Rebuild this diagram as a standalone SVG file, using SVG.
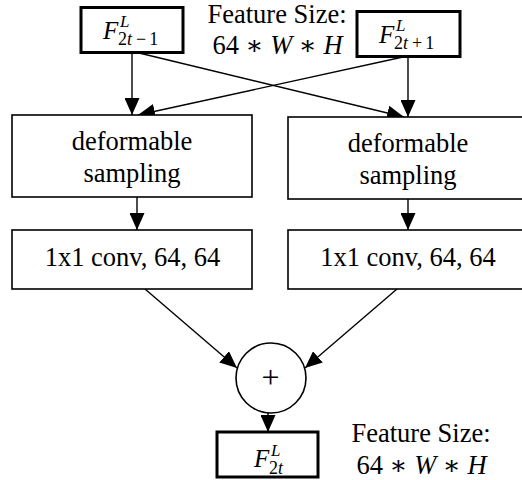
<svg xmlns="http://www.w3.org/2000/svg" width="522" height="480" viewBox="0 0 522 480">
<defs>
<style>
.box{fill:#fff;stroke:#000;stroke-width:1.6}
.tbox{fill:#fff;stroke:#000;stroke-width:3}
.lbl{font-size:26.5px;fill:#000;text-anchor:middle}
.m{fill:#000}
.it{font-style:italic}
.conn{stroke:#000;stroke-width:1.4;fill:none;marker-end:url(#ah)}
</style>
<marker id="ah" markerUnits="userSpaceOnUse" markerWidth="17" markerHeight="15" refX="17" refY="7.5" orient="auto" viewBox="0 0 17 15">
<path d="M0,0 L17,7.5 L0,15 z" fill="#000"/>
</marker>
</defs>
<rect width="522" height="480" fill="#fff"/>

<g id="connectors">
<line class="conn" x1="132" y1="52" x2="132" y2="115"/>
<line class="conn" x1="408" y1="57" x2="408" y2="117"/>
<line class="conn" x1="135" y1="52" x2="404" y2="117"/>
<line class="conn" x1="403" y1="57" x2="138" y2="115"/>
<line class="conn" x1="137" y1="197" x2="137" y2="230"/>
<line class="conn" x1="408" y1="199" x2="408" y2="230"/>
<line class="conn" x1="145" y1="289" x2="237" y2="368"/>
<line class="conn" x1="397" y1="289" x2="305" y2="368"/>
<line class="conn" x1="268" y1="413" x2="268" y2="432"/>
</g>

<g font-family="'Liberation Serif', 'DejaVu Serif', serif">
<g id="f2t-1">
<rect class="tbox" x="81" y="7.5" width="102" height="45"/>
<text class="m it" x="103" y="38.5" font-size="25">F</text>
<text class="m it" x="120" y="27" font-size="17">L</text>
<text class="m" x="118" y="45" font-size="18">2<tspan class="it">t</tspan><tspan dx="4">−</tspan><tspan dx="3">1</tspan></text>
</g>

<g id="f2t+1">
<rect class="tbox" x="357" y="11.5" width="103" height="45"/>
<text class="m it" x="379" y="42.5" font-size="25">F</text>
<text class="m it" x="396" y="31" font-size="17">L</text>
<text class="m" x="394" y="49" font-size="18">2<tspan class="it">t</tspan><tspan dx="4">+</tspan><tspan dx="3">1</tspan></text>
</g>

<g id="size-top">
<text class="lbl" x="277" y="22.5">Feature Size:</text>
<text class="lbl" x="277.5" y="53.5">64 ∗ <tspan class="it">W</tspan> ∗ <tspan class="it">H</tspan></text>
</g>

<g id="deform-left">
<rect class="box" x="12" y="115" width="240" height="82"/>
<text class="lbl" x="132" y="149.5">deformable</text>
<text class="lbl" x="132" y="182">sampling</text>
</g>

<g id="deform-right">
<rect class="box" x="288" y="117" width="240" height="82"/>
<text class="lbl" x="408" y="151.5">deformable</text>
<text class="lbl" x="408" y="184">sampling</text>
</g>

<g id="conv-left">
<rect class="box" x="12" y="230" width="240" height="59"/>
<text class="lbl" x="132.5" y="266">1x1 conv, 64, 64</text>
</g>

<g id="conv-right">
<rect class="box" x="288" y="230" width="240" height="59"/>
<text class="lbl" x="408" y="266">1x1 conv, 64, 64</text>
</g>

<g id="sum">
<circle cx="271" cy="378" r="35" fill="#fff" stroke="#000" stroke-width="1.6"/>
<text class="m" x="270.5" y="388" font-size="32" text-anchor="middle">+</text>
</g>

<g id="f2t">
<rect class="tbox" x="217" y="432" width="101" height="45"/>
<text class="m it" x="254" y="467" font-size="25">F</text>
<text class="m it" x="271" y="455.5" font-size="17">L</text>
<text class="m" x="269" y="473.5" font-size="18">2<tspan class="it">t</tspan></text>
</g>

<g id="size-bottom">
<text class="lbl" x="421" y="442">Feature Size:</text>
<text class="lbl" x="421.5" y="473.5">64 ∗ <tspan class="it">W</tspan> ∗ <tspan class="it">H</tspan></text>
</g>
</g>
</svg>
